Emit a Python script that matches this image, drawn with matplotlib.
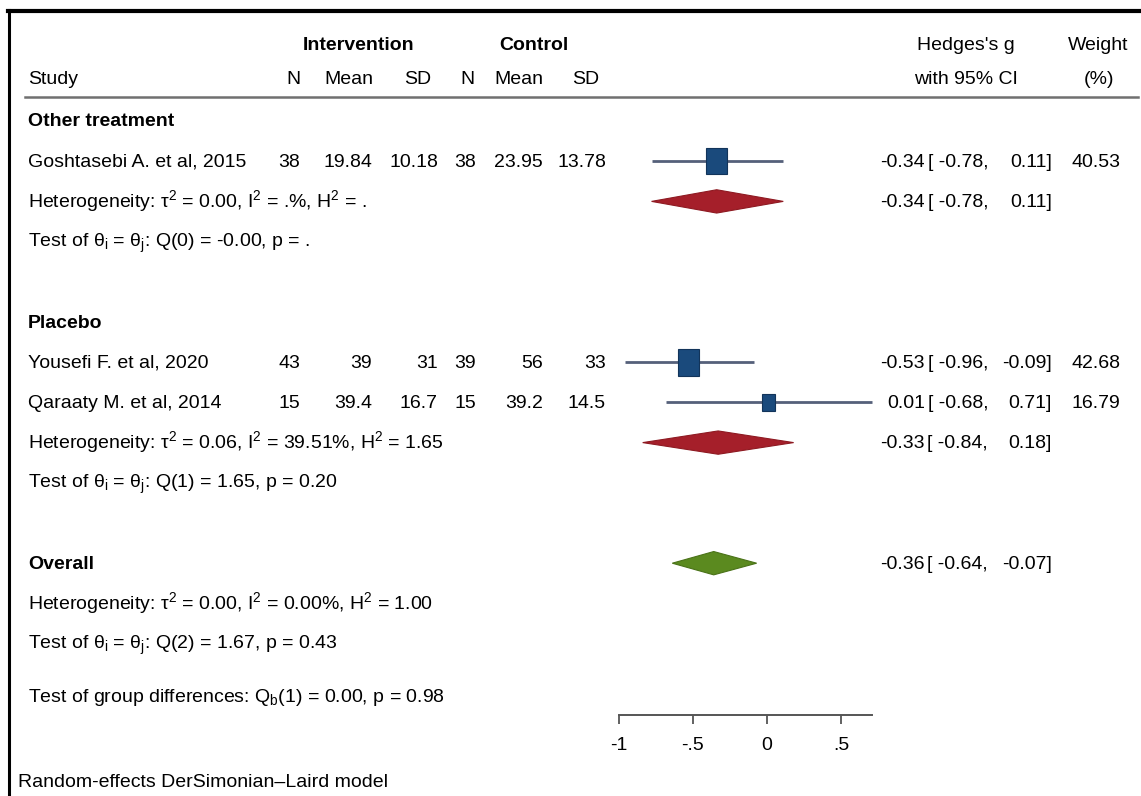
import numpy as np
import matplotlib
matplotlib.use("Agg")
from matplotlib import pyplot as plt
from matplotlib.patches import Rectangle, Polygon
from matplotlib.lines import Line2D
from matplotlib.transforms import blended_transform_factory

plt.rcParams['font.family'] = ['Liberation Sans', 'DejaVu Sans']
plt.rcParams['mathtext.fontset'] = 'custom'
plt.rcParams['mathtext.rm'] = 'Liberation Sans'
plt.rcParams['mathtext.it'] = 'Liberation Sans:italic'
plt.rcParams['mathtext.bf'] = 'Liberation Sans:bold'

#Study level data
studies = ["Goshtasebi A. et al, 2015", "Yousefi F. et al, 2020", "Qaraaty M. et al, 2014"]
n_int = [38, 43, 15]
mean_int = [19.84, 39, 39.4]
sd_int = [10.18, 31, 16.7]
n_ctl = [38, 39, 15]
mean_ctl = [23.95, 56, 39.2]
sd_ctl = [13.78, 33, 14.5]
g = [-0.34, -0.53, 0.01]
g_lo = [-0.78, -0.96, -0.68]
g_hi = [0.11, -0.09, 0.71]
weights = [40.53, 42.68, 16.79]
study_rows = [1, 6, 7]

#Subgroup and overall pooled estimates
groups = ["Other treatment", "Placebo"]
group_rows = [0, 5]
pool_g = [-0.34, -0.33]
pool_lo = [-0.78, -0.84]
pool_hi = [0.11, 0.18]
pool_rows = [2, 8]
het_text = ["Heterogeneity: τ$^{2}$ = 0.00, I$^{2}$ = .%, H$^{2}$ = .",
            "Heterogeneity: τ$^{2}$ = 0.06, I$^{2}$ = 39.51%, H$^{2}$ = 1.65"]
test_text = ["Test of θ$_\\mathrm{i}$ = θ$_\\mathrm{j}$: Q(0) = -0.00, p = .",
             "Test of θ$_\\mathrm{i}$ = θ$_\\mathrm{j}$: Q(1) = 1.65, p = 0.20"]
test_rows = [3, 9]

overall_g, overall_lo, overall_hi = -0.36, -0.64, -0.07
overall_row = 11
overall_het = "Heterogeneity: τ$^{2}$ = 0.00, I$^{2}$ = 0.00%, H$^{2}$ = 1.00"
overall_test = "Test of θ$_\\mathrm{i}$ = θ$_\\mathrm{j}$: Q(2) = 1.67, p = 0.43"
group_diff = "Test of group differences: Q$_\\mathrm{b}$(1) = 0.00, p = 0.98"
model_note = "Random-effects DerSimonian\u2013Laird model"

ticks = [-1, -0.5, 0, 0.5]
tick_labels = ["-1", "-.5", "0", ".5"]

W, H = 1141, 796
FS = 14
px_per_unit = 148.0
zero_px = 767.0
row0_px = 121.0
row_px = 40.2
axis_px = 715.0
base_off = 5.5 / row_px   # baseline sits about half a cap height below the row centre

fig = plt.figure(figsize=(W / 100, H / 100), dpi=100)
ax = fig.add_axes([0, (H - axis_px) / H, 1, axis_px / H])
ax.set_xlim(-zero_px / px_per_unit, (W - zero_px) / px_per_unit)
ax.set_ylim((axis_px - row0_px) / row_px, -row0_px / row_px)
trans = blended_transform_factory(ax.transAxes, ax.transData)


def txt(xpx, row, s, ha="left", bold=False):
    ax.text(xpx / W, row + base_off, s, transform=trans, ha=ha, va="baseline", fontsize=FS,
            fontweight="bold" if bold else "normal", clip_on=False)


def pxrow(p):
    return (p - row0_px) / row_px


#Header
txt(359, pxrow(45), "Intervention", ha="center", bold=True)
txt(534, pxrow(45), "Control", ha="center", bold=True)
txt(966, pxrow(45), "Hedges's g", ha="center")
txt(1098, pxrow(45), "Weight", ha="center")
txt(28, pxrow(78), "Study")
for xr, lab in zip([300, 373, 431, 475, 543, 599], ["N", "Mean", "SD", "N", "Mean", "SD"]):
    txt(xr, pxrow(78), lab, ha="right")
txt(966, pxrow(78), "with 95% CI", ha="center")
txt(1099, pxrow(78), "(%)", ha="center")


def ci_text(row, est, lo, hi):
    txt(925, row, f"{est:.2f}", ha="right")
    txt(988, row, f"[ {lo:.2f},", ha="right")
    txt(1052, row, f"{hi:.2f}]", ha="right")


#Group labels, pooled diamonds and tests
for i in range(len(groups)):
    txt(28, group_rows[i], groups[i], bold=True)
    txt(28, pool_rows[i], het_text[i])
    txt(28, test_rows[i], test_text[i])
    r = pool_rows[i]
    ax.add_patch(Polygon([(pool_lo[i], r), (pool_g[i], r - 0.29), (pool_hi[i], r), (pool_g[i], r + 0.29)],
                         closed=True, facecolor="#a51f2a", edgecolor="#8e1a22", lw=0.8))
    ci_text(r, pool_g[i], pool_lo[i], pool_hi[i])

#Studies
k = 3.25
for i in range(len(studies)):
    r = study_rows[i]
    txt(28, r, studies[i])
    for xr, v in zip([300, 372, 438, 476, 543, 606],
                     [n_int[i], mean_int[i], sd_int[i], n_ctl[i], mean_ctl[i], sd_ctl[i]]):
        txt(xr, r, f"{v:g}", ha="right")
    ax.plot([g_lo[i], g_hi[i]], [r, r], color="#55607a", lw=2.0, solid_capstyle="butt", zorder=2)
    side = k * np.sqrt(weights[i])
    w = side / px_per_unit
    h = side * 1.27 / row_px
    ax.add_patch(Rectangle((g[i] - w / 2, r - h / 2), w, h, facecolor="#1a4a7c",
                           edgecolor="#12345a", lw=0.8, zorder=3))
    ci_text(r, g[i], g_lo[i], g_hi[i])
    txt(1120, r, f"{weights[i]:.2f}", ha="right")

#Overall
txt(28, overall_row, "Overall", bold=True)
ax.add_patch(Polygon([(overall_lo, overall_row), (overall_g, overall_row - 0.29),
                      (overall_hi, overall_row), (overall_g, overall_row + 0.29)],
                     closed=True, facecolor="#5b8a1f", edgecolor="#4a7218", lw=0.8))
ci_text(overall_row, overall_g, overall_lo, overall_hi)
txt(28, overall_row + 1, overall_het)
txt(28, overall_row + 2, overall_test)
txt(28, pxrow(697), group_diff)
txt(18, pxrow(781), model_note)

#Effect size axis
for s in ["top", "left", "right"]:
    ax.spines[s].set_visible(False)
ax.spines["bottom"].set_bounds(-1, max(g_hi))
ax.spines["bottom"].set_color("#555555")
ax.spines["bottom"].set_linewidth(1.4)
ax.set_xticks(ticks, tick_labels)
ax.set_yticks([])
ax.tick_params(axis="x", direction="out", length=6.5, width=1.3, color="#555555", pad=9, labelsize=FS)
ax.patch.set_visible(False)

#Frame and header rule
fig.add_artist(Line2D([8 / W, 1], [1 - 11 / H] * 2, color="black", lw=3))
fig.add_artist(Line2D([9 / W] * 2, [0, 1 - 10 / H], color="black", lw=2.2))
fig.add_artist(Line2D([25 / W, 1138 / W], [1 - 97 / H] * 2, color="#707070", lw=1.8))

fig.savefig("out.png", dpi=100)
